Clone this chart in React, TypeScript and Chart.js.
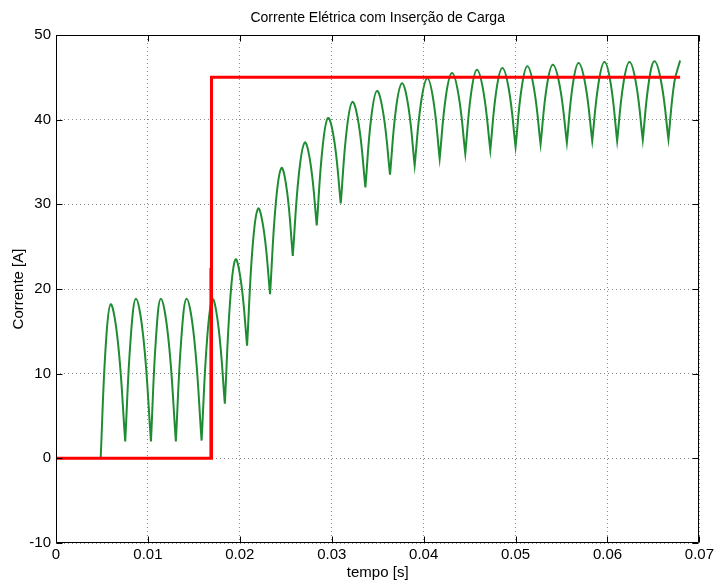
import React, { useEffect, useRef } from "react";
import { Chart, registerables } from "chart.js";

Chart.register(...registerables);

const TITLE = "Corrente Elétrica com Inserção de Carga";
const X_LABEL = "tempo [s]";
const Y_LABEL = "Corrente [A]";

const X_TICKS = [0, 0.01, 0.02, 0.03, 0.04, 0.05, 0.06, 0.07];
const Y_TICKS = [-10, 0, 10, 20, 30, 40, 50];

// Rectified load current [s, A]: crests, valleys and a sample half-way along each flank
const CURRENT_T = [
  0.00486, 0.0054, 0.00595, 0.00674, 0.00753, 0.00812, 0.0087, 0.00952, 0.01033,
  0.01087, 0.01141, 0.01223, 0.01304, 0.01363, 0.01421, 0.01503, 0.01584, 0.01644,
  0.01703, 0.0177, 0.01837, 0.01895, 0.01953, 0.02016, 0.02079, 0.02139, 0.02199,
  0.02264, 0.02329, 0.02391, 0.02453, 0.02515, 0.02576, 0.02642, 0.02707, 0.02772,
  0.02837, 0.02899, 0.0296, 0.03029, 0.03098, 0.03162, 0.03225, 0.03296, 0.03366,
  0.03429, 0.03492, 0.03563, 0.03634, 0.03699, 0.03764, 0.03833, 0.03902, 0.03971,
  0.0404, 0.04107, 0.04174, 0.04241, 0.04308, 0.04381, 0.04453, 0.04516, 0.04579,
  0.04652, 0.04725, 0.0479, 0.04855, 0.04928, 0.05, 0.05064, 0.05127, 0.052,
  0.05272, 0.05339, 0.05405, 0.05482, 0.05558, 0.05622, 0.05685, 0.0576, 0.05834,
  0.05901, 0.05967, 0.06036, 0.06105, 0.06172, 0.06239, 0.06312, 0.06384, 0.06448,
  0.06511, 0.06587, 0.06663, 0.06727, 0.0679,
];
const CURRENT_A = [
  0, 13.1, 18.2, 13.7, 2.0, 14.1, 18.85, 14.1, 2.0,
  14.1, 18.85, 14.1, 2.0, 14.1, 18.85, 14.2, 2.1, 14.1,
  18.8, 15.3, 6.45, 18.7, 23.5, 20.6, 13.3, 25.0, 29.5,
  26.7, 19.4, 30.1, 34.3, 31.4, 23.9, 33.5, 37.3, 34.6,
  27.5, 36.6, 40.2, 37.4, 30.1, 38.7, 42.1, 39.3, 32.0,
  40.2, 43.4, 40.6, 33.5, 41.3, 44.3, 41.6, 34.6, 42.0,
  44.9, 42.2, 35.4, 42.7, 45.5, 42.8, 36.0, 43.1, 45.9,
  43.2, 36.4, 43.4, 46.1, 43.5, 36.8, 43.6, 46.3, 43.7,
  37.1, 43.9, 46.5, 43.9, 37.3, 44.1, 46.7, 44.1, 37.5,
  44.2, 46.8, 44.2, 37.5, 44.2, 46.8, 44.2, 37.6, 44.3,
  46.9, 44.3, 37.7, 44.4, 47.0,
];

// Load insertion step
const STEP_T = [0, 0.01692, 0.01692, 0.0679];
const STEP_A = [0, 0, 45, 45];

// Short transient at the switching instant
const SPIKE_T = [0.0168, 0.0168];
const SPIKE_A = [0, 22.5];

const FONT = "'Liberation Sans', Arial, Helvetica, sans-serif";

function currentPoints() {
  const pts: { x: number; y: number }[] = [];
  for (let i = 0; i < CURRENT_T.length; i++) {
    const p = { x: CURRENT_T[i], y: CURRENT_A[i] };
    pts.push(p);
    // repeat each valley so the curve keeps a sharp corner there
    if (i > 0 && i < CURRENT_T.length - 1 && CURRENT_A[i] < CURRENT_A[i - 1] && CURRENT_A[i] < CURRENT_A[i + 1]) {
      pts.push({ ...p });
    }
  }
  return pts;
}

const zip = (t: number[], a: number[]) => t.map((x, i) => ({ x, y: a[i] }));

const framePlugin = {
  id: "frame",
  afterDraw(chart: any) {
    const { ctx, chartArea } = chart;
    const { left, right, top, bottom } = chartArea;
    const xs = chart.scales.x;
    const ys = chart.scales.y;
    const L = Math.round(left) + 0.5;
    const R = Math.round(right) - 0.5;
    const T = Math.round(top) + 0.5;
    const B = Math.round(bottom) - 0.5;
    const len = 6;
    ctx.save();
    ctx.strokeStyle = "#000";
    ctx.lineWidth = 1;
    ctx.setLineDash([]);
    ctx.beginPath();
    ctx.rect(L, T, R - L, B - T);
    for (const v of X_TICKS) {
      const px = Math.round(xs.getPixelForValue(v)) + 0.5;
      ctx.moveTo(px, B);
      ctx.lineTo(px, B - len);
      ctx.moveTo(px, T);
      ctx.lineTo(px, T + len);
    }
    for (const v of Y_TICKS) {
      const py = Math.round(ys.getPixelForValue(v)) + 0.5;
      ctx.moveTo(L, py);
      ctx.lineTo(L + len, py);
      ctx.moveTo(R, py);
      ctx.lineTo(R - len, py);
    }
    ctx.stroke();

    // chart title, centred over the plot box
    ctx.fillStyle = "#000";
    ctx.font = `14px ${FONT}`;
    ctx.textAlign = "center";
    ctx.textBaseline = "middle";
    ctx.fillText(TITLE, (left + right) / 2, 18);
    ctx.restore();
  },
};

export default function App() {
  const canvasRef = useRef<HTMLCanvasElement | null>(null);

  useEffect(() => {
    const canvas = canvasRef.current;
    if (!canvas) return;
    Chart.defaults.font.family = FONT;
    Chart.defaults.color = "#000";

    const chart = new Chart(canvas, {
      type: "line",
      data: {
        datasets: [
          {
            label: "spike",
            data: zip(SPIKE_T, SPIKE_A),
            borderColor: "#ff0000",
            borderWidth: 2,
            pointRadius: 0,
            tension: 0,
            order: 0,
          },
          {
            label: "carga",
            data: zip(STEP_T, STEP_A),
            borderColor: "#ff0000",
            borderWidth: 3,
            pointRadius: 0,
            tension: 0,
            order: 1,
          },
          {
            label: "corrente",
            data: currentPoints(),
            borderColor: "#1e8c32",
            borderWidth: 2,
            pointRadius: 0,
            tension: 0.4,
            order: 2,
          },
        ],
      },
      options: {
        responsive: false,
        animation: false,
        events: [],
        layout: { padding: { top: 35, right: 17, bottom: 0, left: 0 } },
        plugins: {
          legend: { display: false },
          tooltip: { enabled: false },
          title: { display: false },
        },
        scales: {
          x: {
            type: "linear",
            min: 0,
            max: 0.07,
            afterBuildTicks: (s: any) => {
              s.ticks = X_TICKS.map((v) => ({ value: v }));
            },
            afterFit: (s: any) => {
              s.height = 41;
            },
            ticks: {
              padding: 3,
              font: { family: FONT, size: 15 },
              color: "#000",
              maxRotation: 0,
              autoSkip: false,
              callback: (v: any) => (Number(v) === 0 ? "0" : Number(v).toFixed(2)),
            },
            grid: {
              color: "#8a8a8a",
              lineWidth: 1,
              drawTicks: false,
            },
            border: { display: false, dash: [1, 3] },
            title: {
              display: true,
              text: X_LABEL,
              color: "#000",
              font: { family: FONT, size: 15 },
              padding: { top: 0, bottom: 2 },
            },
          },
          y: {
            type: "linear",
            min: -10,
            max: 50,
            afterBuildTicks: (s: any) => {
              s.ticks = Y_TICKS.map((v) => ({ value: v }));
            },
            afterFit: (s: any) => {
              s.width = 56;
            },
            ticks: {
              padding: 5,
              font: { family: FONT, size: 15 },
              color: "#000",
              autoSkip: false,
              callback: (v: any) => String(v),
            },
            grid: {
              color: "#8a8a8a",
              lineWidth: 1,
              drawTicks: false,
            },
            border: { display: false, dash: [1, 3] },
            title: {
              display: true,
              text: Y_LABEL,
              color: "#000",
              font: { family: FONT, size: 15 },
              padding: { top: 10, bottom: 0 },
            },
          },
        },
      },
      plugins: [framePlugin],
    });

    return () => chart.destroy();
  }, []);

  return (
    <div style={{ position: "absolute", left: 0, top: 0, width: 717, height: 584, background: "#fff" }}>
      <canvas ref={canvasRef} width={717} height={584} style={{ display: "block" }} />
    </div>
  );
}
